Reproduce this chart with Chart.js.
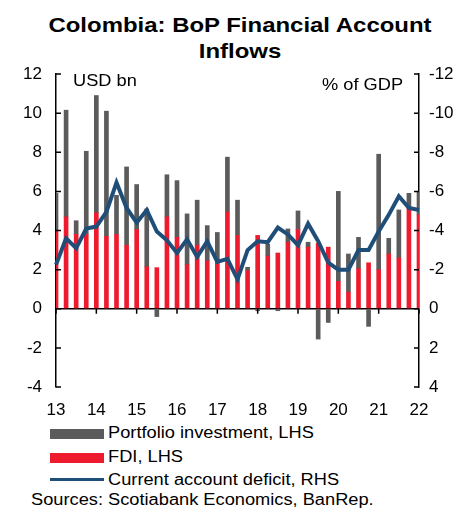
<!DOCTYPE html>
<html>
<head>
<meta charset="utf-8">
<script src="https://cdn.jsdelivr.net/npm/chart.js@4.4.1/dist/chart.umd.min.js"></script>
<style>
  body { margin: 0; background: #fff; font-family: "Liberation Sans", Arial, sans-serif; color: #000; }
  #wrap { position: relative; width: 463px; height: 508px; overflow: hidden; }
  #chartBox { position: absolute; left: 0; top: 0; width: 463px; height: 420px; }
  .txt { position: absolute; white-space: nowrap; font-size: 16px; line-height: 18px; transform: scaleX(1.14); transform-origin: left center; }
  .title { position: absolute; left: 0; width: 476px; text-align: center; font-weight: bold; font-size: 21px; line-height: 26px; transform: scaleX(1.14); transform-origin: 238px center; }
  .sw { position: absolute; left: 50px; width: 54px; }
</style>
</head>
<body>
<div id="wrap">
  <div class="title" style="top:12px; left:2px;">Colombia: BoP Financial Account<br>Inflows</div>
  <div id="chartBox"><canvas id="bopChart"></canvas></div>
  <div class="txt" style="left:73px; top:72px;">USD bn</div>
  <div class="txt" style="left:322px; top:76px;">% of GDP</div>

  <div class="sw" style="top:429px; height:10px; background:#5b5b5b;"></div>
  <div class="txt" style="left:108px; top:424px;">Portfolio investment, LHS</div>
  <div class="sw" style="top:453px; height:10px; background:#ee1b2e;"></div>
  <div class="txt" style="left:108px; top:448px;">FDI, LHS</div>
  <div class="sw" style="top:478px; height:3px; background:#1f4e79;"></div>
  <div class="txt" style="left:108px; top:471px;">Current account deficit, RHS</div>
  <div class="txt" style="left:31px; top:491px;">Sources: Scotiabank Economics, BanRep.</div>
</div>
<script>
// quarters 2013Q1 .. 2022Q1
const quarters = [
  '13Q1','13Q2','13Q3','13Q4','14Q1','14Q2','14Q3','14Q4',
  '15Q1','15Q2','15Q3','15Q4','16Q1','16Q2','16Q3','16Q4',
  '17Q1','17Q2','17Q3','17Q4','18Q1','18Q2','18Q3','18Q4',
  '19Q1','19Q2','19Q3','19Q4','20Q1','20Q2','20Q3','20Q4',
  '21Q1','21Q2','21Q3','21Q4','22Q1'
];

// USD bn, LHS
const fdi = [4.0, 4.7, 3.8, 3.8, 4.9, 3.7, 3.8, 3.25, 4.05, 2.15, 2.1, 4.7,
  3.65, 2.25, 3.25, 2.45, 2.35, 4.95, 3.75, 1.95, 3.75, 2.7, 2.85, 3.4,
  4.05, 3.15, 3.35, 3.15, 1.4, 0.85, 2.05, 2.35, 2.0, 2.8, 2.6, 5.15, 4.8];

const portfolio = [1.9, 5.45, 0.7, 4.25, 6.0, 6.4, 2.0, 4.0, 2.3, 2.95, -0.4, 2.15,
  2.9, 2.6, 2.3, 1.8, 1.55, 2.8, 1.8, 0.17, -0.1, 0.6, -0.1, 0.68,
  0.95, 0.25, -1.55, -0.7, 4.6, 1.95, 1.6, -0.9, 5.9, 0.8, 2.45, 0.75, 1.15];

// current account balance, % of GDP, RHS (inverted)
const caBalance = [-2.25, -3.6, -3.1, -4.1, -4.2, -4.95, -6.45, -5.15, -4.4, -5.05,
  -3.95, -3.5, -2.85, -3.55, -2.65, -3.45, -2.4, -2.55, -1.5, -3.0,
  -3.45, -3.4, -4.15, -3.8, -3.25, -4.35, -3.45, -2.35, -2.0, -2.0,
  -3.0, -3.0, -3.95, -4.8, -5.75, -5.15, -5.05];

const leftTicks = [-4, -2, 0, 2, 4, 6, 8, 10, 12];

const tickFont = { family: 'Liberation Sans', size: 17 };

// small inward tick marks on the axes + year ticks on the zero line
const axisMarks = {
  id: 'axisMarks',
  afterDatasetsDraw(chart) {
    const { ctx, chartArea, scales } = chart;
    ctx.save();
    ctx.strokeStyle = '#000';
    ctx.lineWidth = 1.5;
    ctx.beginPath();
    scales.y.ticks.forEach(t => {
      const py = scales.y.getPixelForValue(t.value);
      ctx.moveTo(chartArea.left, py);
      ctx.lineTo(chartArea.left + 5, py);
    });
    scales.y2.ticks.forEach(t => {
      const py = scales.y2.getPixelForValue(t.value);
      ctx.moveTo(chartArea.right, py);
      ctx.lineTo(chartArea.right - 5, py);
    });
    const y0 = scales.y.getPixelForValue(0);
    quarters.forEach((q, i) => {
      if (q.endsWith('Q1')) {
        const px = scales.x.getPixelForValue(i);
        ctx.moveTo(px, y0);
        ctx.lineTo(px, y0 + 5);
      }
    });
    ctx.stroke();
    ctx.restore();
  }
};

new Chart(document.getElementById('bopChart'), {
  type: 'bar',
  data: {
    labels: quarters,
    datasets: [
      {
        type: 'line',
        label: 'Current account deficit, RHS',
        data: caBalance,
        yAxisID: 'y2',
        borderColor: '#1f4e79',
        borderWidth: 4,
        pointRadius: 0,
        tension: 0,
        order: 0
      },
      {
        label: 'FDI, LHS',
        data: fdi,
        backgroundColor: '#ee1b2e',
        barThickness: 4,
        stack: 'flows',
        order: 1
      },
      {
        label: 'Portfolio investment, LHS',
        data: portfolio,
        backgroundColor: '#5b5b5b',
        barThickness: 4,
        stack: 'flows',
        order: 2
      }
    ]
  },
  plugins: [axisMarks],
  options: {
    responsive: true,
    maintainAspectRatio: false,
    animation: false,
    layout: { padding: { top: 74, left: 0, right: 0, bottom: 0 } },
    plugins: {
      legend: { display: false },
      tooltip: { enabled: false }
    },
    scales: {
      x: {
        stacked: true,
        offset: false,
        grid: { display: false, drawTicks: false },
        border: { display: false },
        ticks: {
          autoSkip: false,
          maxRotation: 0,
          padding: 13,
          color: '#000',
          font: tickFont,
          callback: function (val, i) {
            const q = quarters[i];
            return q.endsWith('Q1') ? q.slice(0, 2) : '';
          }
        },
        afterFit: s => { s.height = 33; }
      },
      y: {
        stacked: true,
        position: 'left',
        min: -4,
        max: 12,
        afterBuildTicks: s => { s.ticks = leftTicks.map(v => ({ value: v })); },
        grid: {
          drawTicks: false,
          lineWidth: 1.5,
          color: c => (c.tick && c.tick.value === 0 ? '#000' : 'rgba(0,0,0,0)')
        },
        border: { display: true, color: '#000', width: 1.5 },
        ticks: { padding: 14, color: '#000', font: tickFont },
        afterFit: s => { s.width = 56; }
      },
      y2: {
        position: 'right',
        reverse: true,
        min: -12,
        max: 4,
        grid: { display: false, drawTicks: false },
        border: { display: true, color: '#000', width: 1.5 },
        ticks: { stepSize: 2, padding: 10, color: '#000', font: tickFont },
        afterFit: s => { s.width = 44; }
      }
    }
  }
});
</script>
</body>
</html>
